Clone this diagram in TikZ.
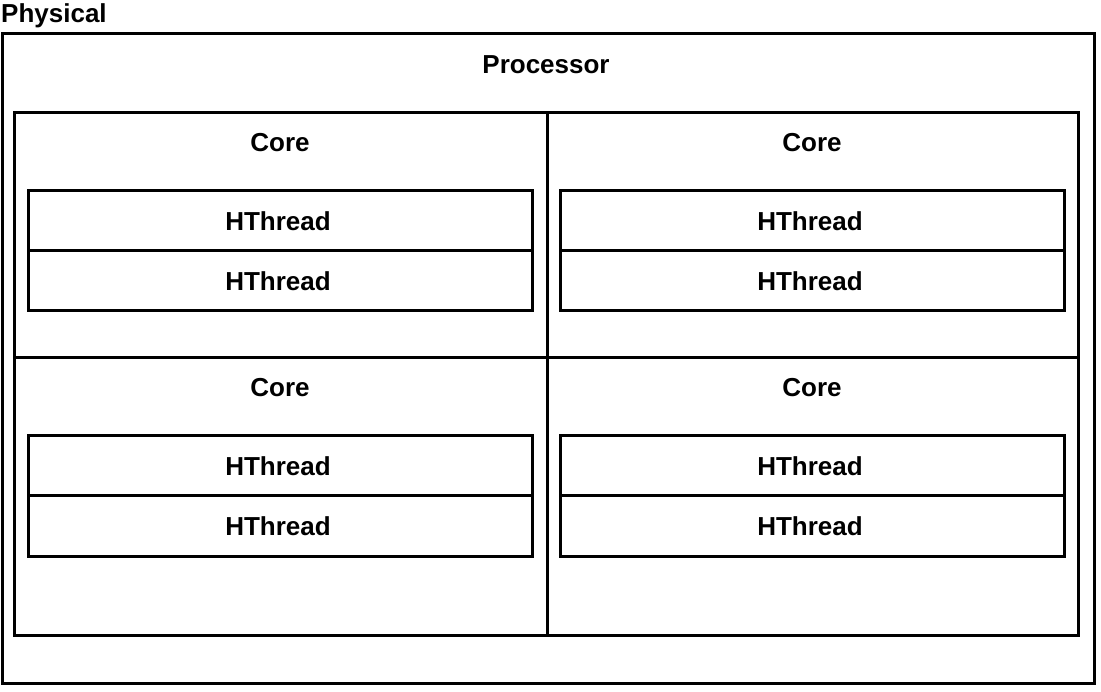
\documentclass[tikz,border=0pt]{standalone}
\usepackage{fontspec}
\setmainfont{Liberation Sans}
\begin{document}
\begin{tikzpicture}[x=1pt,y=-1pt,
  box/.style={draw=black,line width=3pt,fill=none},
  lbl/.style={font=\fontsize{26}{30}\selectfont\bfseries,inner sep=0pt},
  thr/.style={draw=black,line width=3pt,minimum width=504pt,minimum height=60pt,inner sep=0pt,font=\fontsize{26}{30}\selectfont\bfseries}]
\useasboundingbox (0,0) rectangle (1101,692);
\fill[white] (0,0) rectangle (1101,692);
\node[lbl,anchor=west] (phys) at (1,16) {Physical};
\draw[box] (2,34) rectangle (1094,683);
\node[lbl] (proc) at (546,65) {Processor};
\draw[box] (14,113) rectangle (1078,635);
\draw[box] (547,113) -- (547,635);
\draw[box] (14,358) -- (1078,358);
\node[lbl] (c1) at (280,143) {Core};
\node[lbl] (c2) at (812,143) {Core};
\node[lbl] (c3) at (280,388) {Core};
\node[lbl] (c4) at (812,388) {Core};
\node[thr] (t1) at (280,221) {HThread\kern4pt};
\node[thr] (t2) at (280,281) {HThread\kern4pt};
\node[thr] (t3) at (812,221) {HThread\kern4pt};
\node[thr] (t4) at (812,281) {HThread\kern4pt};
\node[thr] (t5) at (280,466) {HThread\kern4pt};
\node[thr] (t6) at (280,526) {HThread\kern4pt};
\node[thr] (t7) at (812,466) {HThread\kern4pt};
\node[thr] (t8) at (812,526) {HThread\kern4pt};
\end{tikzpicture}
\end{document}
